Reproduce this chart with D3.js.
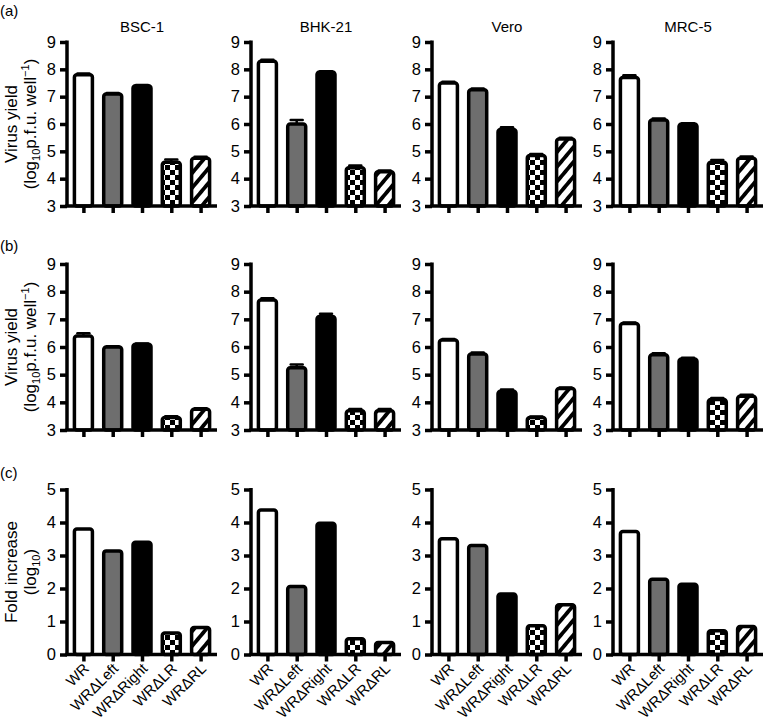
<!DOCTYPE html>
<html><head><meta charset="utf-8">
<script src="https://cdn.jsdelivr.net/npm/d3@7"></script>
<style>body{margin:0;background:#fff}text{font-family:"Liberation Sans",Arial,Helvetica,sans-serif;fill:#000}</style>
</head><body>
<svg id="chart" width="764" height="725"></svg>
<script>
const cells = ["BSC-1", "BHK-21", "Vero", "MRC-5"];
const viruses = ["WR", "WR\u0394Left", "WR\u0394Right", "WR\u0394LR", "WR\u0394RL"];
const panelLetters = ["(a)", "(b)", "(c)"];
// (a) virus yield, log10 p.f.u. per well
const yieldA = [[7.8, 7.1, 7.4, 4.6, 4.75], [8.3, 6.0, 7.9, 4.4, 4.25], [7.5, 7.25, 5.8, 4.85, 5.45], [7.7, 6.15, 6.0, 4.6, 4.75]];
const errA = [[0.05, 0.03, 0.03, 0.1, 0.05], [0.05, 0.15, 0.03, 0.08, 0.05], [0.05, 0.05, 0.08, 0.05, 0.05], [0.08, 0.05, 0.03, 0.08, 0.06]];
// (b) virus yield
const yieldB = [[6.4, 6.0, 6.1, 3.45, 3.75], [7.7, 5.25, 7.1, 3.7, 3.7], [6.25, 5.75, 4.4, 3.45, 4.5], [6.85, 5.72, 5.57, 4.1, 4.22]];
const errB = [[0.1, 0.03, 0.03, 0.05, 0.04], [0.06, 0.12, 0.1, 0.06, 0.06], [0.04, 0.05, 0.06, 0.04, 0.04], [0.04, 0.05, 0.04, 0.06, 0.05]];
// (c) fold increase, log10
const foldC = [[3.8, 3.14, 3.4, 0.65, 0.82], [4.38, 2.06, 3.98, 0.48, 0.36], [3.51, 3.3, 1.83, 0.87, 1.51], [3.73, 2.28, 2.13, 0.72, 0.85]];
const ticksAB = [3, 4, 5, 6, 7, 8, 9];
const ticksC = [0, 1, 2, 3, 4, 5];

const svg = d3.select("#chart");
const defs = svg.append("defs");
const chk = defs.append("pattern").attr("id", "chk").attr("patternUnits", "userSpaceOnUse")
  .attr("width", 10).attr("height", 10);
chk.append("rect").attr("width", 10).attr("height", 10).attr("fill", "#fff");
chk.append("rect").attr("width", 5).attr("height", 5).attr("fill", "#000");
chk.append("rect").attr("x", 5).attr("y", 5).attr("width", 5).attr("height", 5).attr("fill", "#000");
const str = defs.append("pattern").attr("id", "str").attr("patternUnits", "userSpaceOnUse")
  .attr("width", 9.5).attr("height", 9.5).attr("patternTransform", "rotate(40)");
str.append("rect").attr("width", 9.5).attr("height", 9.5).attr("fill", "#fff");
str.append("rect").attr("width", 3.8).attr("height", 9.5).attr("fill", "#000");

const fills = ["#fff", "#6e6e6e", "#000", "url(#chk)", "url(#str)"];

const rows = [
  {vals: yieldA, errs: errA, top: 42, bottom: 206, domain: [3, 9], ticks: ticksAB, letterY: 16},
  {vals: yieldB, errs: errB, top: 264, bottom: 430, domain: [3, 9], ticks: ticksAB, letterY: 251},
  {vals: foldC, errs: null, top: 489.5, bottom: 654.5, domain: [0, 5], ticks: ticksC, letterY: 478}
];
const axisX = [67, 251, 432, 613];
const axisLen = 150;

rows.forEach((row, ri) => {
  svg.append("text").attr("x", 0).attr("y", row.letterY).attr("font-size", 15).text(panelLetters[ri]);
  const cy = (row.top + row.bottom) / 2;
  const yl = svg.append("g").attr("transform", `translate(0,${cy}) rotate(-90)`);
  if (ri < 2) {
    yl.append("text").attr("y", 17).attr("text-anchor", "middle").attr("font-size", 17).text("Virus yield");
    const t = yl.append("text").attr("y", 36).attr("text-anchor", "middle").attr("font-size", 17);
    t.append("tspan").text("(log");
    t.append("tspan").attr("font-size", 11).attr("dy", 4).text("10");
    t.append("tspan").attr("dy", -4).text("p.f.u. well");
    t.append("tspan").attr("font-size", 11).attr("dy", -7).text("\u22121");
    t.append("tspan").attr("dy", 7).text(")");
  } else {
    yl.append("text").attr("y", 17).attr("text-anchor", "middle").attr("font-size", 17).text("Fold increase");
    const t = yl.append("text").attr("y", 36).attr("text-anchor", "middle").attr("font-size", 17);
    t.append("tspan").text("(log");
    t.append("tspan").attr("font-size", 11).attr("dy", 4).text("10");
    t.append("tspan").attr("dy", -4).text(")");
  }

  cells.forEach((cell, ci) => {
    const x0 = axisX[ci];
    const x = d3.scalePoint().domain(viruses).range([x0, x0 + axisLen]).padding(0.56);
    const y = d3.scaleLinear().domain(row.domain).range([row.bottom, row.top]);
    const g = svg.append("g");
    const bw = 18;
    viruses.forEach((v, vi) => {
      const val = row.vals[ci][vi];
      g.append("rect").attr("x", x(v) - bw / 2).attr("y", y(val))
        .attr("width", bw).attr("height", y(row.domain[0]) - y(val))
        .attr("rx", 2.5).attr("fill", fills[vi]).attr("stroke", "#000").attr("stroke-width", 3.5);
      if (row.errs) {
        const e = row.errs[ci][vi];
        g.append("line").attr("x1", x(v)).attr("x2", x(v)).attr("y1", y(val)).attr("y2", y(val + e))
          .attr("stroke", "#000").attr("stroke-width", 2.5);
        g.append("line").attr("x1", x(v) - 6).attr("x2", x(v) + 6).attr("y1", y(val + e)).attr("y2", y(val + e))
          .attr("stroke", "#000").attr("stroke-width", 2.5).attr("stroke-linecap", "round");
      }
    });
    // y axis
    const ya = g.append("g").attr("transform", `translate(${x0},0)`)
      .call(d3.axisLeft(y).tickValues(row.ticks).tickFormat(d3.format("d")).tickSizeInner(7).tickSizeOuter(0).tickPadding(4));
    ya.select(".domain").attr("stroke-width", 3.5).attr("stroke", "#000");
    ya.selectAll(".tick line").attr("stroke-width", 3.5);
    ya.selectAll(".tick text").attr("font-size", 16.5).attr("font-family", "Liberation Sans, Arial, sans-serif");
    ya.select(".domain").attr("d", `M0,${row.bottom}V${row.top - 1.5}`);
    // x axis
    const xa = g.append("g").attr("transform", `translate(0,${row.bottom})`)
      .call(d3.axisBottom(x).tickSizeInner(7).tickSizeOuter(0).tickFormat(ri === 2 ? (d => d) : () => ""));
    xa.select(".domain").attr("d", `M${x0 - 1.75},0H${x0 + axisLen}`).attr("stroke-width", 3.5);
    xa.selectAll(".tick line").attr("stroke-width", 3.5);
    if (ri === 2) {
      xa.selectAll(".tick text").attr("font-size", 15).attr("font-family", "Liberation Sans, Arial, sans-serif")
        .attr("text-anchor", "end").attr("dy", null).attr("y", 0)
        .attr("transform", "translate(6,15) rotate(-45)");
    }
    if (ri === 0) {
      svg.append("text").attr("x", x0 + axisLen / 2).attr("y", 32).attr("text-anchor", "middle")
        .attr("font-size", 15).text(cell);
    }
  });
});
</script>
</body></html>
